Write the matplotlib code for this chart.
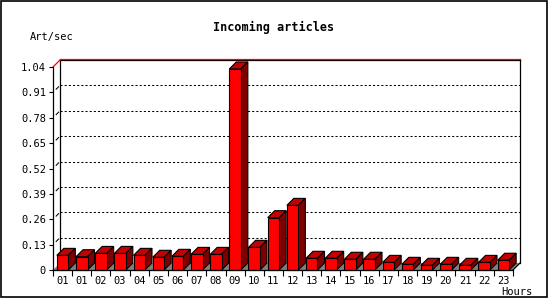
"""
Incoming articles per hour, bar chart with fake 3D look.
"""

import numpy as np
import matplotlib.pyplot as plt
from matplotlib.patches import Polygon, Rectangle

# Datos
horas = ['01', '01', '02', '03', '04', '05', '06', '07', '08', '09', '10', '11',
         '12', '13', '14', '15', '16', '17', '18', '19', '20', '21', '22', '23']
articulos = [0.075, 0.068, 0.085, 0.085, 0.075, 0.065, 0.070, 0.080, 0.080,
             1.03, 0.116, 0.268, 0.331, 0.060, 0.060, 0.055, 0.055, 0.039,
             0.029, 0.024, 0.029, 0.024, 0.039, 0.050]
marcas_y = [0, 0.13, 0.26, 0.39, 0.52, 0.65, 0.78, 0.91, 1.04]

W, H = 550, 300
FONT = 'DejaVu Sans Mono'

fig = plt.figure(figsize=(W / 100, H / 100), dpi=100)
fig.patch.set_facecolor('white')

# Plano frontal del grafico (pixeles)
x0, x1, y0, y1 = 53, 513, 270, 67
ax = fig.add_axes([x0 / W, 1 - y0 / H, (x1 - x0) / W, (y0 - y1) / H])
n = len(articulos)
ymax = marcas_y[-1]
ax.set_xlim(-0.5, n - 0.5)
ax.set_ylim(0, ymax)
ax.set_facecolor('none')
for s in ax.spines.values():
    s.set_visible(False)

# Profundidad 3D: 7 px a la derecha y 7 px hacia arriba
prof = 7
dx = prof * n / (x1 - x0)
dy = prof * ymax / (y0 - y1)
px_y = ymax / (y0 - y1)

xl, xr = -0.5, n - 0.5

# Grilla punteada en el plano de fondo
for t in marcas_y[1:-1]:
    ax.plot([xl + dx, xr + dx], [t + dy, t + dy], color='black', lw=0.75,
            linestyle=(0, (2, 2)), zorder=1, clip_on=False)
    ax.plot([xl + dx * 0.45, xl + dx * 0.8], [t + dy * 0.45, t + dy * 0.8],
            color='black', lw=0.75, zorder=1, clip_on=False)

# Marco del fondo
ax.plot([xl + dx, xl + dx], [dy, ymax + dy], color='black', lw=0.9, zorder=1, clip_on=False)
ax.plot([xr + dx, xr + dx], [dy, ymax + dy], color='black', lw=0.9, zorder=1, clip_on=False)
ax.plot([xl + dx, xr + dx], [ymax + dy, ymax + dy], color='black', lw=0.9, zorder=1, clip_on=False)
ax.plot([xl + dx, xr + dx], [ymax + dy + px_y, ymax + dy + px_y], color='red', lw=0.9,
        zorder=1, clip_on=False)
ax.plot([xl, xl + dx], [ymax, ymax + dy], color='red', lw=0.9, zorder=1, clip_on=False)

# Piso gris
piso = Polygon([(xl, 0), (xr, 0), (xr + dx, dy), (xl + dx, dy)], closed=True,
               facecolor='#808080', edgecolor='none', zorder=2, clip_on=False)
ax.add_patch(piso)

# Barras
ancho = 0.6
x = np.arange(n)
ax.bar(x, articulos, width=ancho, color='#ff0000', edgecolor='black',
       linewidth=0.8, zorder=4, clip_on=False)
for xi, h in zip(x, articulos):
    a, b = xi - ancho / 2, xi + ancho / 2
    tapa = Polygon([(a, h), (b, h), (b + dx, h + dy), (a + dx, h + dy)],
                   closed=True, facecolor='#c40000', edgecolor='black',
                   linewidth=0.8, zorder=3, clip_on=False)
    lado = Polygon([(b, 0), (b, h), (b + dx, h + dy), (b + dx, dy)],
                   closed=True, facecolor='#800000', edgecolor='black',
                   linewidth=0.8, zorder=3, clip_on=False)
    ax.add_patch(tapa)
    ax.add_patch(lado)

# Ejes frontales
ax.plot([xl, xl], [0, ymax], color='black', lw=0.9, zorder=5, clip_on=False)
ax.plot([xl, xr], [0, 0], color='black', lw=0.9, zorder=5, clip_on=False)
ax.plot([xr, xr + dx], [0, dy], color='black', lw=0.9, zorder=5, clip_on=False)

# Ticks
ax.set_yticks(marcas_y)
ax.set_yticklabels(['0' if t == 0 else '%.2f' % t for t in marcas_y],
                   fontfamily=FONT, fontsize=7.5)
ax.tick_params(axis='y', length=3, width=0.8, pad=2)
ax.set_xticks(np.arange(n + 1) - 0.5)
ax.set_xticklabels([])
ax.set_xticks(x, minor=True)
ax.set_xticklabels(horas, minor=True, fontfamily=FONT, fontsize=7.5)
ax.tick_params(axis='x', which='major', length=4, width=0.8)
ax.tick_params(axis='x', which='minor', length=0, pad=4)

# Textos
fig.text(274 / W, 1 - 27 / H, 'Incoming articles', ha='center', va='center',
         fontfamily=FONT, fontsize=8.5, fontweight='bold')
fig.text(30 / W, 1 - 37 / H, 'Art/sec', ha='left', va='center',
         fontfamily=FONT, fontsize=7.5)
fig.text(533 / W, 1 - 292 / H, 'Hours', ha='right', va='center',
         fontfamily=FONT, fontsize=7.5)

# Borde de la imagen
fig.patches.append(Rectangle((0.6 / W, 2.6 / H), 546.6 / W, 296.6 / H,
                             transform=fig.transFigure, fill=False,
                             edgecolor='black', linewidth=1.2))

fig.savefig('out.png', dpi=100)
